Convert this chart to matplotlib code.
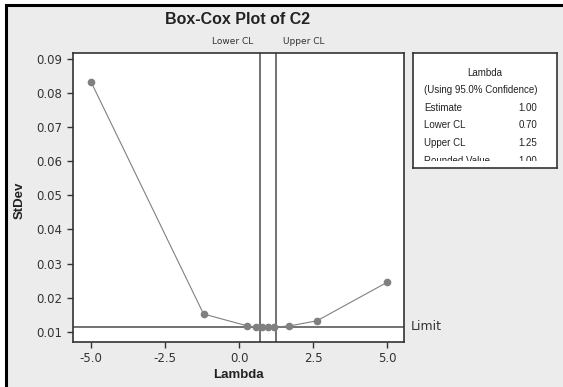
import numpy as np
import matplotlib.pyplot as plt
from matplotlib.patches import Rectangle

plt.rcParams["axes.unicode_minus"] = False
plt.rcParams["font.family"] = ["DejaVu Sans"]

# Box-Cox profile
lam = [-5.0, -1.2, 0.28, 0.58, 0.78, 0.98, 1.18, 1.70, 2.63, 5.0]
stdev = [0.0833, 0.0152, 0.0117, 0.01135, 0.01135, 0.0113, 0.01135, 0.0117, 0.0132, 0.0245]
limit = 0.01147
lower_cl = 0.70
upper_cl = 1.25
xticks = [-5.0, -2.5, 0.0, 2.5, 5.0]
yticks = [0.01, 0.02, 0.03, 0.04, 0.05, 0.06, 0.07, 0.08, 0.09]

table_rows = [("Estimate", "1.00"), ("Lower CL", "0.70"),
              ("Upper CL", "1.25"), ("Rounded Value", "1.00")]

W, H = 563, 387
fig = plt.figure(figsize=(W / 100, H / 100), dpi=100)
fig.patch.set_facecolor("white")


def px(x0, y0, x1, y1):
    # pixel box (top-left origin) -> figure fraction rect
    return [x0 / W, 1 - y1 / H, (x1 - x0) / W, (y1 - y0) / H]


# grey panel with black frame on top/left
fig.add_artist(Rectangle((6 / W, -0.1), 1.2, 1.1 - 5 / H, transform=fig.transFigure,
                         facecolor="#ececec", edgecolor="black", lw=2.2, zorder=-10))

ax = fig.add_axes(px(73, 53, 404, 342))
ax.set_facecolor("white")
ax.plot(lam, stdev, color="#808080", lw=0.8, marker="o", ms=4.5,
        mfc="#808080", mec="#808080", zorder=3)
ax.axhline(limit, color="#5a5a5a", lw=1.2, zorder=2)
ax.axvline(lower_cl, color="#5a5a5a", lw=1.2, zorder=2)
ax.axvline(upper_cl, color="#5a5a5a", lw=1.2, zorder=2)

ax.set_xlim(-5.61, 5.57)
ax.set_ylim(0.00698, 0.0918)
ax.set_xticks(xticks)
ax.set_xticklabels([f"{t:.1f}" for t in xticks])
ax.set_yticks(yticks)
ax.set_yticklabels([f"{t:.2f}" for t in yticks])
ax.tick_params(labelsize=8.5, colors="#333333", length=4, width=1, direction="out")
for s in ax.spines.values():
    s.set_color("#333333")
    s.set_linewidth(1.2)

ax.annotate("Lower CL", xy=(lower_cl, 1), xycoords=("data", "axes fraction"),
            xytext=(-5, 5), textcoords="offset points", ha="right", va="bottom",
            fontsize=6.5, color="#333333")
ax.annotate("Upper CL", xy=(upper_cl, 1), xycoords=("data", "axes fraction"),
            xytext=(5, 5), textcoords="offset points", ha="left", va="bottom",
            fontsize=6.5, color="#333333")
ax.annotate("Limit", xy=(1, limit), xycoords=("axes fraction", "data"),
            xytext=(5, 0), textcoords="offset points", ha="left", va="center",
            fontsize=9, color="#333333")

fig.text(238 / W, 1 - 19 / H, "Box-Cox Plot of C2", ha="center", va="center",
         fontsize=11.5, fontweight="bold", color="#222222", family="Liberation Sans")
fig.text(238 / W, 1 - 375 / H, "Lambda", ha="center", va="center",
         fontsize=9.5, fontweight="bold", color="#222222", family="Liberation Sans")
fig.text(20 / W, 1 - 200 / H, "StDev", ha="center", va="center", rotation=90,
         fontsize=9.5, fontweight="bold", color="#222222", family="Liberation Sans")

# summary box
lg = fig.add_axes(px(413, 53, 557, 168))
lg.set_xlim(413, 557)
lg.set_ylim(168, 53)
lg.set_xticks([])
lg.set_yticks([])
lg.set_facecolor("white")
for s in lg.spines.values():
    s.set_color("#333333")
    s.set_linewidth(1.2)
clip = Rectangle((413, 56), 144, 105, transform=lg.transData, visible=False)
lg.add_patch(clip)
kw = dict(fontsize=7, color="#222222", family="Liberation Sans", va="center",
          clip_on=True)
texts = [lg.text(485, 52, "Box-Cox", ha="center", **kw),
         lg.text(485, 73, "Lambda", ha="center", **kw),
         lg.text(424, 90, "(Using 95.0% Confidence)", ha="left", **kw)]
for i, (name, val) in enumerate(table_rows):
    y = 108 + i * 17.5
    texts.append(lg.text(424, y, name, ha="left", **kw))
    texts.append(lg.text(537, y, val, ha="right", **kw))
for t in texts:
    t.set_clip_path(clip)

fig.savefig("out.png", dpi=100)
